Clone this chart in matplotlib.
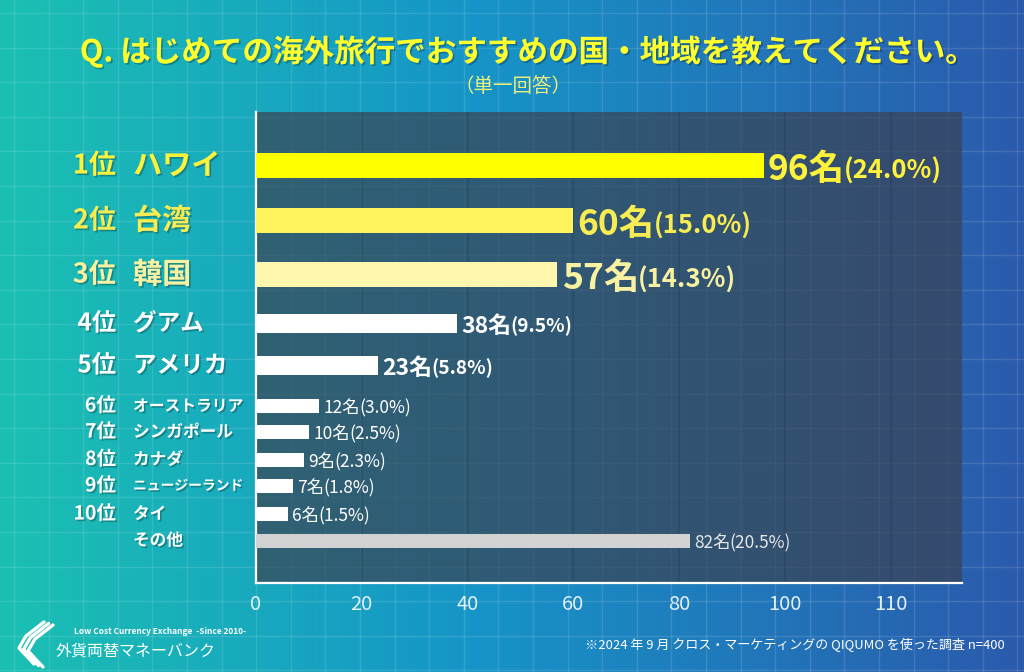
import numpy as np
import matplotlib
matplotlib.use('Agg')
import matplotlib.pyplot as plt
import matplotlib.patheffects as pe
import matplotlib.transforms as mtransforms

# ---------------- data ----------------
ranks = ['1位', '2位', '3位', '4位', '5位', '6位', '7位', '8位', '9位', '10位', '']
countries = ['ハワイ', '台湾', '韓国', 'グアム', 'アメリカ', 'オーストラリア', 'シンガポール',
             'カナダ', 'ニュージーランド', 'タイ', 'その他']
counts = [96, 60, 57, 38, 23, 12, 10, 9, 7, 6, 82]
percents = ['24.0', '15.0', '14.3', '9.5', '5.8', '3.0', '2.5', '2.3', '1.8', '1.5', '20.5']
tick_values = [0, 20, 40, 60, 80, 100, 120]
tick_labels = ['0', '20', '40', '60', '80', '100', '110']
title = 'Q. はじめての海外旅行でおすすめの国・地域を教えてください。'
subtitle = '（単一回答）'
footnote = '※2024 年 9 月 クロス・マーケティングの QIQUMO を使った調査 n=400'
brand_en = 'Low Cost Currency Exchange  -Since 2010-'
brand_jp = '外貨両替マネーバンク'

# ---------------- layout / style ----------------
W, H = 1024, 672
row_y = [165.5, 220.5, 274.5, 323.5, 365.5, 406, 432, 459.5, 486, 514, 540.5]
bar_h = [25, 25, 25, 19, 19, 14, 14, 14, 14, 14, 14]
bar_colors = ['#ffff00', '#fff45e', '#fff7ae', 'white', 'white', 'white', 'white',
              'white', 'white', 'white', '#d2d2d2']
label_colors = ['#fff23a', '#f7ec52', '#f9f1a2'] + ['white'] * 8
tier = [0, 0, 0, 1, 1, 2, 2, 2, 2, 2, 2]
rank_size = [19.5, 17.5, 14]
name_size = [21, 17, 12]
num_size = [25.5, 16.5, 12.5]
pct_size = [18.5, 13.8, 12.5]
name_max_px = 110

JP = ['Noto Sans CJK JP', 'DejaVu Sans']
plt.rcParams['font.family'] = JP

fig = plt.figure(figsize=(W / 100, H / 100), dpi=100)

# background
bg = fig.add_axes([0, 0, 1, 1])
xs = np.linspace(0, 1, W)
stops_x = [0.0, 0.45, 1.0]
stops_c = np.array([[27, 192, 178], [22, 150, 200], [43, 90, 172]]) / 255.0
grad = np.stack([np.interp(xs, stops_x, stops_c[:, i]) for i in range(3)], axis=-1)
img = np.repeat(grad[None, :, :], H, axis=0)
bg.imshow(img, extent=(0, W, H, 0), aspect='auto', interpolation='bilinear')
for gx in np.arange(14, W, 34.6):
    bg.axvline(gx, color='white', alpha=0.12, lw=1)
for gy in np.arange(13, H, 34.6):
    bg.axhline(gy, color='white', alpha=0.12, lw=1)
bg.set_xlim(0, W)
bg.set_ylim(H, 0)
bg.axis('off')

shadow = [pe.withSimplePatchShadow(offset=(1.2, -1.2), shadow_rgbFace='black', alpha=0.25)]

bg.text(527, 52, title, color='#ffff2e', fontsize=22, fontweight='bold',
        ha='center', va='center', path_effects=shadow)
bg.text(W / 2 + 1, 87, subtitle, color='#eef27a', fontsize=14, ha='center', va='center')
bg.text(1005, 645, footnote, color='white', fontsize=9.4, ha='right', va='center')
bg.text(74, 632, brand_en, color='white', fontsize=6, ha='left', va='center', fontweight='bold')
bg.text(56, 651, brand_jp, color='white', fontsize=11.5, ha='left', va='center')
# simple logo mark: three stacked bent strips
base_x = np.array([44, 26, 19, 34])
base_y = np.array([622, 636, 648, 664])
for k in range(3):
    bg.plot(base_x + 4.5 * k, base_y + 3.5 * k - 2 * k, color='white', lw=2.4,
            solid_capstyle='round', solid_joinstyle='round')

# main panel
x0, x1, ytop, ybot = 256, 962, 112, 583
ax = fig.add_axes([x0 / W, (H - ybot) / H, (x1 - x0) / W, (ybot - ytop) / H])
ax.set_facecolor((0.23, 0.25, 0.31, 0.68))
ax.set_xlim(0, 133.5)
ax.set_ylim(ybot, ytop)
ax.set_axisbelow(True)
ax.grid(axis='x', color=(0.08, 0.12, 0.2), alpha=0.15, lw=1.5)
for s in ['top', 'right']:
    ax.spines[s].set_visible(False)
for s in ['left', 'bottom']:
    ax.spines[s].set_color('white')
    ax.spines[s].set_linewidth(1.6)
ax.set_xticks(tick_values, tick_labels)
ax.tick_params(axis='x', length=0, pad=8, labelsize=14.5, labelcolor='#e4f0fb')
ax.set_yticks([])

ax.barh(row_y, counts, height=bar_h, color=bar_colors, zorder=3)

trans = mtransforms.blended_transform_factory(fig.transFigure, ax.transData)
fig.canvas.draw()
renderer = fig.canvas.get_renderer()
for i in range(len(counts)):
    t = tier[i]
    c = label_colors[i]
    if ranks[i]:
        ax.text(116 / W, row_y[i], ranks[i], transform=trans, ha='right', va='center',
                fontsize=rank_size[t], fontweight='bold', color=c, path_effects=shadow)
    nt = ax.text(133 / W, row_y[i], countries[i], transform=trans, ha='left', va='center',
                 fontsize=name_size[t], fontweight='bold', color=c, path_effects=shadow)
    wpx = nt.get_window_extent(renderer).width
    if t == 2 and wpx > name_max_px:
        nt.set_fontsize(name_size[t] * name_max_px / wpx)
    vcol = label_colors[i] if t == 0 else ('white' if i < 10 else '#e6e6e6')
    w = 'bold' if t < 2 else 'normal'
    t1 = ax.annotate(f'{counts[i]}名', xy=(counts[i], row_y[i]), xytext=(3, 0),
                     textcoords='offset points', ha='left', va='center_baseline',
                     fontsize=num_size[t], fontweight=w, color=vcol, zorder=4)
    ax.annotate(f'({percents[i]}%)', xy=(1, 0.5), xycoords=t1,
                xytext=(-0.5, -1.5 if t == 0 else -0.5),
                textcoords='offset points', ha='left', va='center',
                fontsize=pct_size[t], fontweight=w, color=vcol, zorder=4)

fig.savefig('out.png', dpi=100)
